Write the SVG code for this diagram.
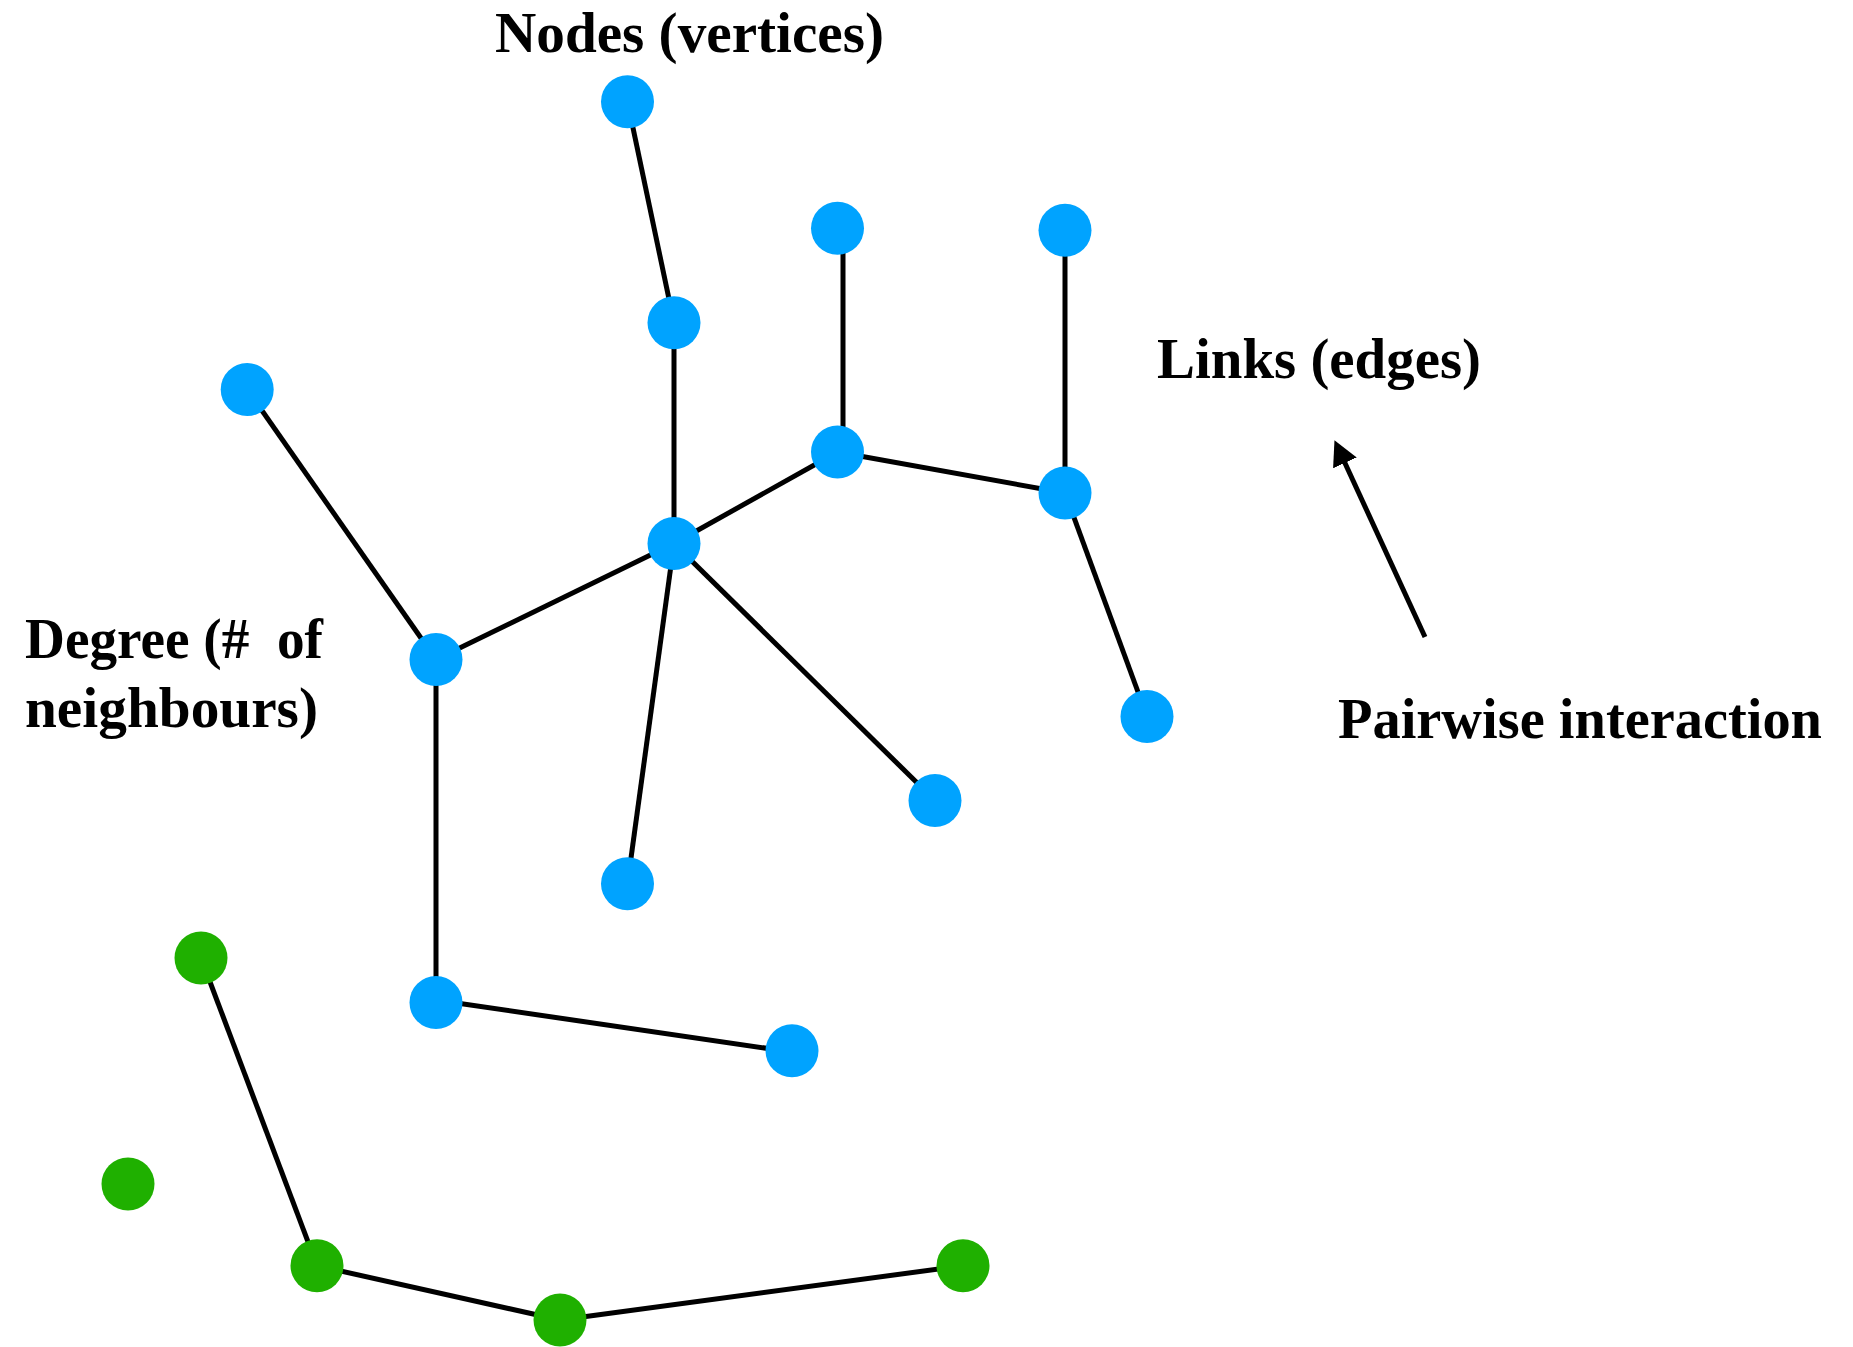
<svg xmlns="http://www.w3.org/2000/svg" width="1853" height="1347" viewBox="0 0 1853 1347">
  <style>
    .edge { stroke: #000; stroke-width: 5; fill: none; }
    .blue { fill: #00A3FF; }
    .green { fill: #1FB000; }
    .label { font-family: "Liberation Serif", "DejaVu Serif", serif; font-weight: bold; font-size: 56px; fill: #000; }
  </style>
  <defs>
    <marker id="arrowhead" viewBox="0 0 25 26" refX="1" refY="13" markerWidth="25" markerHeight="26" markerUnits="userSpaceOnUse" orient="auto">
      <path d="M0,0 L25,13 L0,26 z" fill="#000"/>
    </marker>
  </defs>
  <rect width="1853" height="1347" fill="#fff"/>

  <!-- links between nodes -->
  <g id="connectors">
    <line class="edge" x1="627.5" y1="101.7" x2="674" y2="322.7"/>
    <line class="edge" x1="674" y1="322.7" x2="674" y2="543.5"/>
    <line class="edge" x1="843" y1="228.3" x2="843" y2="452"/>
    <line class="edge" x1="1065" y1="230.3" x2="1065" y2="493"/>
    <line class="edge" x1="674" y1="543.5" x2="837.5" y2="452"/>
    <line class="edge" x1="837.5" y1="452" x2="1065" y2="493"/>
    <line class="edge" x1="1065" y1="493" x2="1147" y2="716.5"/>
    <line class="edge" x1="247.2" y1="389.5" x2="436" y2="659.5"/>
    <line class="edge" x1="436" y1="659.5" x2="674" y2="543.5"/>
    <line class="edge" x1="674" y1="543.5" x2="627.5" y2="883.7"/>
    <line class="edge" x1="674" y1="543.5" x2="935" y2="800.5"/>
    <line class="edge" x1="436" y1="659.5" x2="436" y2="1002.5"/>
    <line class="edge" x1="436" y1="1000" x2="792" y2="1052"/>
    <line class="edge" x1="201" y1="958" x2="317" y2="1265.7"/>
    <line class="edge" x1="317" y1="1265.7" x2="560" y2="1320"/>
    <line class="edge" x1="560" y1="1320" x2="963" y2="1265.7"/>
    <!-- annotation arrow -->
    <line class="edge" x1="1425" y1="637" x2="1344.5" y2="462" marker-end="url(#arrowhead)"/>
  </g>

  <!-- blue component -->
  <g id="n1"><circle class="blue" cx="627.5" cy="101.7" r="26.5"/></g>
  <g id="n2"><circle class="blue" cx="674" cy="322.7" r="26.5"/></g>
  <g id="n3"><circle class="blue" cx="837.5" cy="228.3" r="26.5"/></g>
  <g id="n4"><circle class="blue" cx="1065" cy="230.3" r="26.5"/></g>
  <g id="n5"><circle class="blue" cx="247.2" cy="389.5" r="26.5"/></g>
  <g id="n6"><circle class="blue" cx="837.5" cy="452" r="26.5"/></g>
  <g id="n7"><circle class="blue" cx="1065" cy="493" r="26.5"/></g>
  <g id="n8"><circle class="blue" cx="674" cy="543.5" r="26.5"/></g>
  <g id="n9"><circle class="blue" cx="436" cy="659.5" r="26.5"/></g>
  <g id="n10"><circle class="blue" cx="1147" cy="716.5" r="26.5"/></g>
  <g id="n11"><circle class="blue" cx="935" cy="800.5" r="26.5"/></g>
  <g id="n12"><circle class="blue" cx="627.5" cy="883.7" r="26.5"/></g>
  <g id="n13"><circle class="blue" cx="436" cy="1002.5" r="26.5"/></g>
  <g id="n14"><circle class="blue" cx="792" cy="1050.8" r="26.5"/></g>

  <!-- green component -->
  <g id="g1"><circle class="green" cx="201" cy="958" r="26.5"/></g>
  <g id="g2"><circle class="green" cx="128" cy="1184" r="26.5"/></g>
  <g id="g3"><circle class="green" cx="317" cy="1265.7" r="26.5"/></g>
  <g id="g4"><circle class="green" cx="560" cy="1320" r="26.5"/></g>
  <g id="g5"><circle class="green" cx="963" cy="1265.7" r="26.5"/></g>

  <!-- labels -->
  <g id="labels">
    <text class="label" x="495" y="52" textLength="389" lengthAdjust="spacingAndGlyphs">Nodes (vertices)</text>
    <text class="label" x="1157" y="378" textLength="324" lengthAdjust="spacingAndGlyphs">Links (edges)</text>
    <text class="label" x="1338" y="738" textLength="484" lengthAdjust="spacingAndGlyphs">Pairwise interaction</text>
    <text class="label" x="25" y="658" textLength="298" lengthAdjust="spacingAndGlyphs" xml:space="preserve">Degree (#  of</text>
    <text class="label" x="25" y="727" textLength="293" lengthAdjust="spacingAndGlyphs">neighbours)</text>
  </g>
</svg>
